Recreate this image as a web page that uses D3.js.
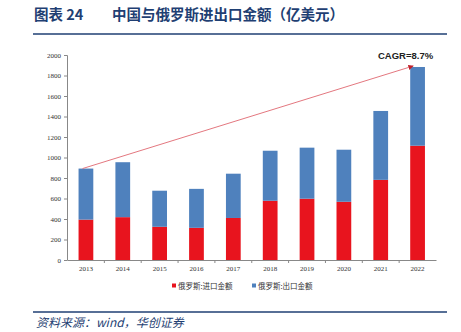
<!DOCTYPE html>
<html>
<head>
<meta charset="utf-8">
<script src="https://cdn.jsdelivr.net/npm/d3@7"></script>
<style>
  body { margin: 0; background: #fff; }
  svg { display: block; }
</style>
</head>
<body>
<div id="chart"></div>
<script>
const years   = ['2013','2014','2015','2016','2017','2018','2019','2020','2021','2022'];
const imports = [394, 418, 324, 314, 410, 578, 598, 568, 782, 1115];
const exports = [498, 536, 352, 380, 432, 488, 498, 508, 672, 768];
const yTicks  = [0, 200, 400, 600, 800, 1000, 1200, 1400, 1600, 1800, 2000];
const seriesNames = ['俄罗斯:进口金额', '俄罗斯:出口金额'];
const COLORS = ['#E8141E', '#4F81BD'];

const W = 461, H = 332;
const svg = d3.select('#chart').append('svg').attr('width', W).attr('height', H);

// ── Header ───────────────────────────────────────────────────────────
const titleStyle = t => t.attr('y', 20).attr('fill', '#1F3F73')
  .attr('font-family', '"Noto Sans CJK SC", serif')
  .attr('font-weight', 'bold').attr('font-size', 14.5);
svg.append('text').attr('x', 34).call(titleStyle).text('图表 24');
svg.append('text').attr('x', 112).call(titleStyle).text('中国与俄罗斯进出口金额（亿美元）');
svg.append('line').attr('x1', 33).attr('x2', 447).attr('y1', 34).attr('y2', 34)
  .attr('stroke', '#1F3F73').attr('stroke-width', 1.6);

// ── Scales ───────────────────────────────────────────────────────────
const x = d3.scaleBand().domain(years).range([67.5, 436]).paddingInner(0.6).paddingOuter(0.3);
const y = d3.scaleLinear().domain([0, 2000]).range([260, 55]);

const stacked = years.map((yr, i) => ({ yr, imp: imports[i], exp: exports[i], total: imports[i] + exports[i] }));

// axes
const yAxis = svg.append('g').attr('transform', 'translate(67,0)')
  .call(d3.axisLeft(y).tickValues(yTicks).tickFormat(d3.format('d')).tickSize(3).tickPadding(3));
const xAxis = svg.append('g').attr('transform', 'translate(0,260)')
  .call(d3.axisBottom(x).tickSize(0).tickPadding(6));
[yAxis, xAxis].forEach(g => {
  g.select('.domain').attr('stroke', '#888');
  g.selectAll('.tick line').attr('stroke', '#888');
  g.selectAll('text').attr('font-family', '"Liberation Serif", serif').attr('font-size', 7).attr('fill', '#333');
});
// category separators on x axis
const step = x.step();
svg.append('g').selectAll('line').data(years.slice(1)).join('line')
  .attr('x1', d => x(d) - (step - x.bandwidth()) / 2)
  .attr('x2', d => x(d) - (step - x.bandwidth()) / 2)
  .attr('y1', 260).attr('y2', 263).attr('stroke', '#888');

// ── Bars ─────────────────────────────────────────────────────────────
svg.append('g').selectAll('rect').data(stacked).join('rect')
  .attr('x', d => x(d.yr)).attr('width', x.bandwidth())
  .attr('y', d => y(d.imp)).attr('height', d => y(0) - y(d.imp))
  .attr('fill', COLORS[0]);
svg.append('g').selectAll('rect').data(stacked).join('rect')
  .attr('x', d => x(d.yr)).attr('width', x.bandwidth())
  .attr('y', d => y(d.total)).attr('height', d => y(d.imp) - y(d.total))
  .attr('fill', COLORS[1]);

// ── CAGR arrow ───────────────────────────────────────────────────────
svg.append('defs').append('marker')
  .attr('id', 'arr').attr('viewBox', '0 0 10 10').attr('refX', 9).attr('refY', 5)
  .attr('markerWidth', 6).attr('markerHeight', 6).attr('orient', 'auto')
  .append('path').attr('d', 'M0,0L10,5L0,10z').attr('fill', '#C0202A');
const first = stacked[0], last = stacked[stacked.length - 1];
svg.append('line')
  .attr('x1', x(first.yr) + 4).attr('y1', y(first.total))
  .attr('x2', x(last.yr) + 3).attr('y2', y(last.total) - 1)
  .attr('stroke', '#E06870').attr('stroke-width', 0.9)
  .attr('marker-end', 'url(#arr)');
svg.append('text')
  .attr('x', x(last.yr) + x.bandwidth() / 2 - 12).attr('y', y(last.total) - 8)
  .attr('text-anchor', 'middle')
  .attr('font-family', '"Liberation Sans", Arial, sans-serif')
  .attr('font-weight', 'bold').attr('font-size', 9.5).attr('fill', '#222')
  .text('CAGR=8.7%');

// ── Legend ───────────────────────────────────────────────────────────
const lg = svg.append('g').attr('transform', 'translate(172,287)');
seriesNames.forEach((name, i) => {
  const g = lg.append('g').attr('transform', `translate(${i * 80},0)`);
  g.append('rect').attr('x', 0).attr('y', -3.5).attr('width', 4).attr('height', 4).attr('fill', COLORS[i]);
  g.append('text').attr('x', 6).attr('y', 1.5)
    .attr('font-family', '"Noto Sans CJK SC", serif').attr('font-size', 7.5).attr('fill', '#333')
    .text(name);
});

// ── Footer ───────────────────────────────────────────────────────────
svg.append('line').attr('x1', 33).attr('x2', 447).attr('y1', 312).attr('y2', 312)
  .attr('stroke', '#1F3F73').attr('stroke-width', 1.6);
svg.append('text')
  .attr('x', 36).attr('y', 327)
  .attr('fill', '#1F3F73')
  .attr('font-family', '"Noto Sans CJK SC", serif')
  .attr('font-style', 'italic')
  .attr('font-size', 12)
  .text('资料来源：wind，华创证券');
</script>
</body>
</html>
